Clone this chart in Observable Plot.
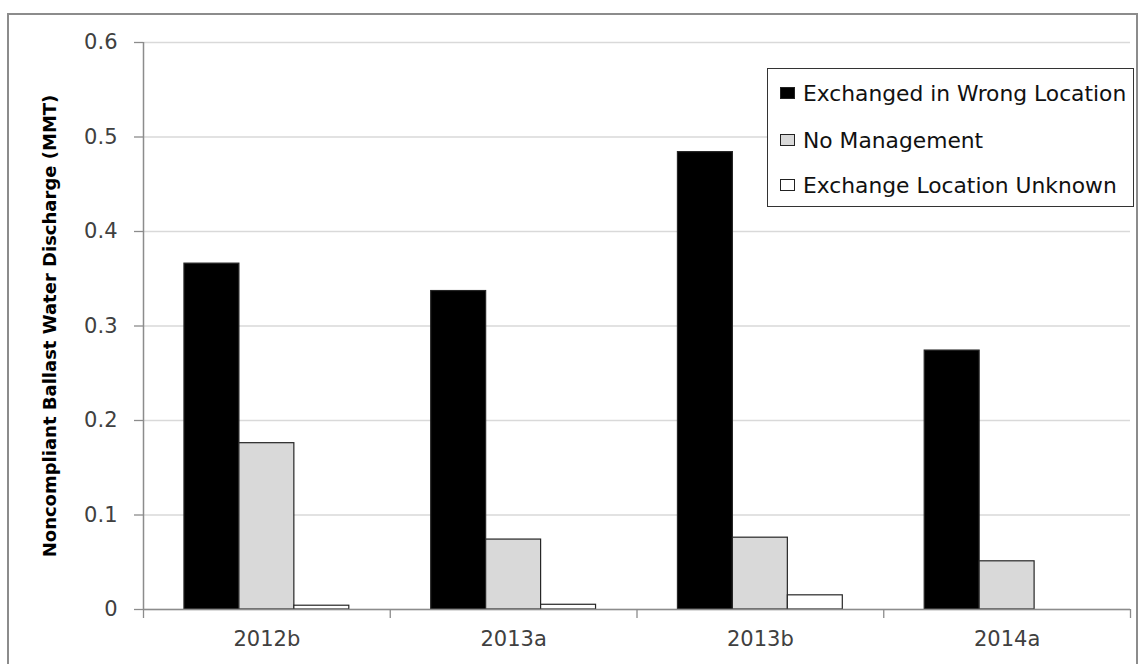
<!DOCTYPE html>
<html>
<head>
<meta charset="utf-8">
<script src="https://cdn.jsdelivr.net/npm/d3@7"></script>
<script src="https://cdn.jsdelivr.net/npm/@observablehq/plot@0.6"></script>
<style>
  html, body { margin: 0; padding: 0; background: #fff; overflow: hidden; }
  #wrap { position: relative; width: 1147px; height: 664px; }
  #border { position: absolute; left: 7px; top: 13px; width: 1131px; height: 700px; border: 2px solid #8c8c8c; box-sizing: border-box; }
  #chart { position: absolute; left: 0; top: 0; }
  #legend { position: absolute; left: 767px; top: 68px; width: 367px; height: 139px; border: 1.5px solid #333; box-sizing: border-box; background: #fff;
            font-family: "DejaVu Sans", sans-serif; font-size: 21.8px; color: #111; }
  .item { position: absolute; left: 12px; display: flex; align-items: center; height: 24px; white-space: nowrap; }
  .sw { width: 15px; height: 12px; box-sizing: border-box; border: 1px solid #222; margin-right: 8px; }
</style>
</head>
<body>
<div id="wrap">
  <div id="border"></div>
  <div id="chart"></div>
  <div id="legend"></div>
</div>
<script>
const categories = ["2012b", "2013a", "2013b", "2014a"];
const seriesNames = ["Exchanged in Wrong Location", "No Management", "Exchange Location Unknown"];
const wrongLocation = [0.366, 0.337, 0.484, 0.274];
const noManagement = [0.176, 0.074, 0.076, 0.051];
const locationUnknown = [0.004, 0.005, 0.015, 0];
const seriesColors = ["#000000", "#d9d9d9", "#ffffff"];
const yTicks = [0, 0.1, 0.2, 0.3, 0.4, 0.5, 0.6];
const yLabel = "Noncompliant Ballast Water Discharge (MMT)";

const seriesValues = [wrongLocation, noManagement, locationUnknown];
const barW = 0.2227;           // fraction of a category band per bar
const groupOffset = (1 - barW * seriesNames.length) / 2;
const data = [];
categories.forEach((c, i) => {
  seriesNames.forEach((s, j) => {
    data.push({
      category: c, series: s, value: seriesValues[j][i],
      x1: i + groupOffset + j * barW, x2: i + groupOffset + (j + 1) * barW,
      color: seriesColors[j]
    });
  });
});

const chart = Plot.plot({
  width: 1147, height: 664,
  marginLeft: 143, marginRight: 17, marginTop: 42, marginBottom: 55,
  x: {domain: [0, categories.length], axis: null},
  y: {domain: [0, 0.6], axis: null},
  style: {fontFamily: "DejaVu Sans, sans-serif", fontSize: "21px", color: "#404040", background: "transparent"},
  marks: [
    Plot.gridY(yTicks, {stroke: "#d9d9d9", strokeOpacity: 1, strokeWidth: 1.3}),
    Plot.rect(data.filter(d => d.value > 0), {x1: "x1", x2: "x2", y1: 0, y2: "value", fill: "color", stroke: "#262626", strokeWidth: 1.2}),
    Plot.ruleY([0], {stroke: "#8c8c8c", strokeWidth: 1.5}),
    Plot.ruleX([0], {stroke: "#8c8c8c", strokeWidth: 1.5}),
    Plot.axisY(yTicks, {tickSize: 9, tickPadding: 17, stroke: "#8c8c8c", strokeWidth: 1.3, fill: "#404040", tickFormat: d => d === 0 ? "0" : d.toFixed(1), label: null}),
    Plot.axisX(d3.range(categories.length + 1), {tickSize: 9, stroke: "#8c8c8c", strokeWidth: 1.3, tickFormat: () => "", label: null}),
    Plot.axisX(d3.range(categories.length).map(i => i + 0.5), {tickSize: 0, tickPadding: 22, fill: "#404040", tickFormat: d => categories[Math.floor(d)], label: null}),
    Plot.text([yLabel], {frameAnchor: "left", rotate: -90, dx: -93, fontWeight: "bold", fontSize: 18, fill: "#000", textAnchor: "middle"})
  ]
});
document.getElementById("chart").appendChild(chart);

const legend = document.getElementById("legend");
const rowTops = [12, 59, 104];
seriesNames.forEach((s, j) => {
  const it = document.createElement("div");
  it.className = "item";
  it.style.top = rowTops[j] + "px";
  const sw = document.createElement("div");
  sw.className = "sw";
  sw.style.background = seriesColors[j];
  const t = document.createElement("span");
  t.textContent = s;
  it.appendChild(sw); it.appendChild(t);
  legend.appendChild(it);
});
</script>
</body>
</html>
